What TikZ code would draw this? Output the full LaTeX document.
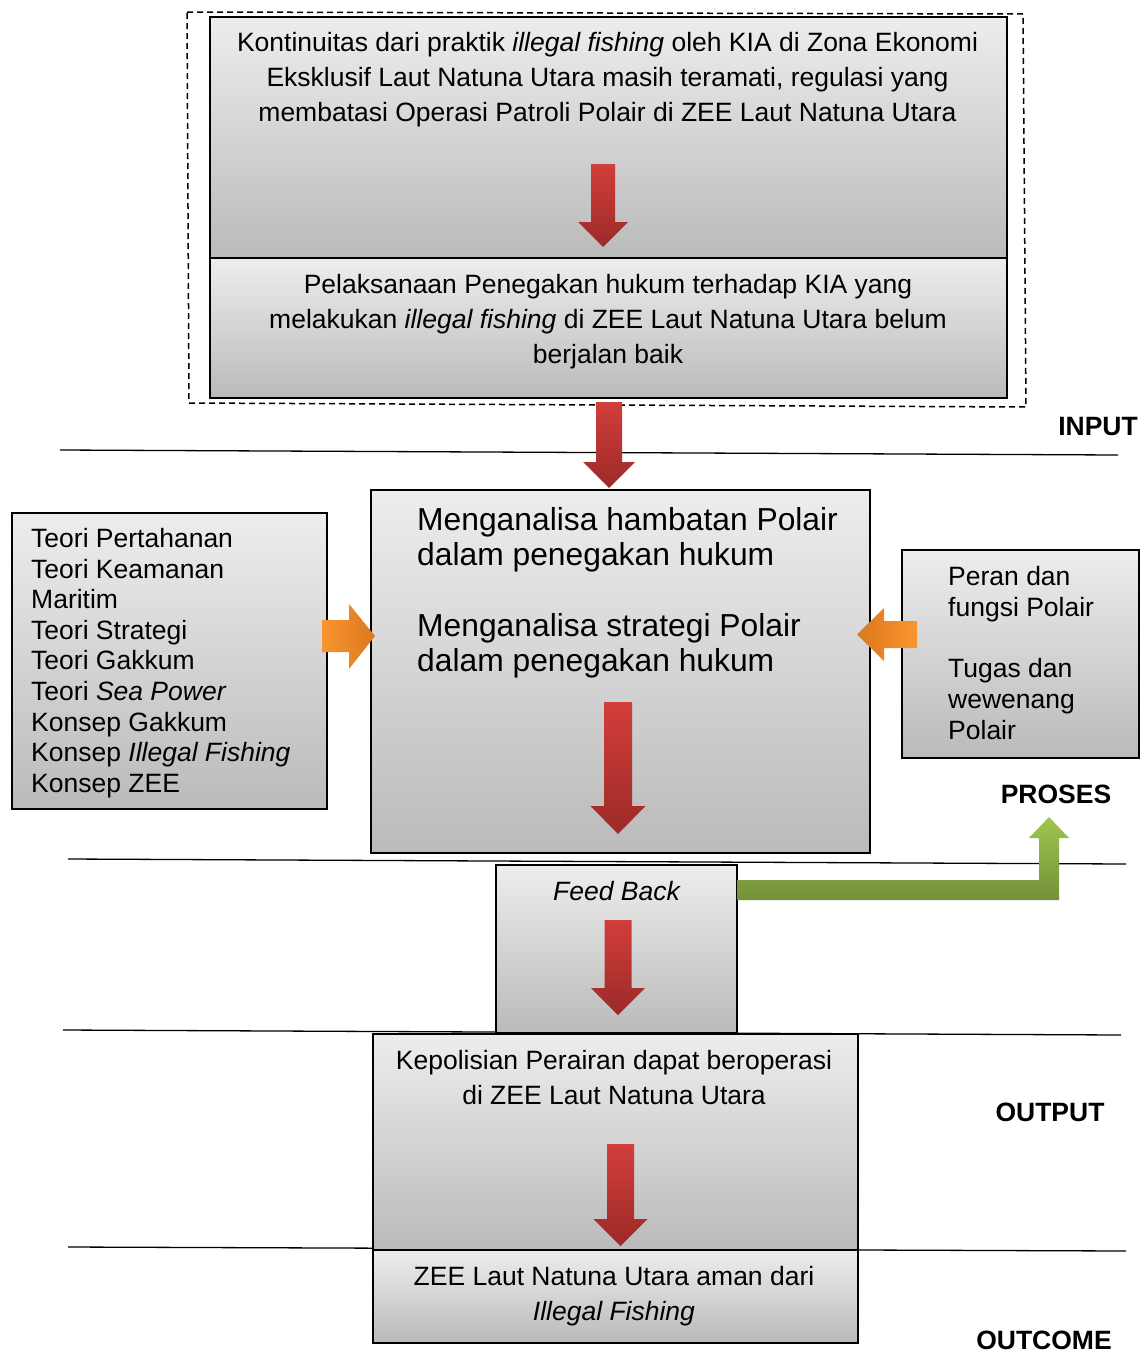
\documentclass[tikz,border=0pt]{standalone}
\usepackage{fontspec}
\setmainfont{Liberation Sans}
\definecolor{redtop}{HTML}{D23E3B}
\definecolor{redbot}{HTML}{9C2A27}
\definecolor{orlight}{HTML}{F9962F}
\definecolor{ordark}{HTML}{DC781F}
\definecolor{grtop}{HTML}{9FC64C}
\definecolor{grbot}{HTML}{74903A}
\newcommand\blockdown[6]{%
  \shade[top color=redtop, bottom color=redbot]
    ({#1-#2},#3) -- ({#1+#2},#3) -- ({#1+#2},#4) -- ({#1+#5},#4) -- (#1,#6)
    -- ({#1-#5},#4) -- ({#1-#2},#4) -- cycle;}
\begin{document}
\begin{tikzpicture}[x=1pt,y=-1pt,
  box/.style={draw=black, line width=1.5pt, top color=black!7, bottom color=black!27,
    inner sep=0pt, anchor=north west},
  txt/.style={inner sep=0pt, font=\fontsize{26.5}{35}\selectfont, align=center, anchor=base},
  lbl/.style={inner sep=0pt, font=\fontsize{26.5}{32}\selectfont\bfseries, anchor=base},
  sepline/.style={line width=1.3pt}]
\useasboundingbox (0,0) rectangle (1140,1352);
% separator lines
\draw[sepline] (60,450) -- (1118,455);
\draw[sepline] (68,859) -- (1126,864);
\draw[sepline] (63,1030) -- (1121,1035);
\draw[sepline] (68,1247) -- (1126,1251);
% dashed frame
\draw[line width=1.5pt, dash pattern=on 6pt off 4pt] (187,12) -- (1023,14) -- (1026,407) -- (189,403) -- cycle;
% boxes
\node[box, minimum width=797pt, minimum height=241pt] (b1) at (209,16) {};
\node[box, minimum width=797pt, minimum height=140pt] (b2) at (209,257) {};
\node[box, minimum width=499pt, minimum height=363pt] (mid) at (370,489) {};
\node[box, minimum width=315pt, minimum height=296pt] (lft) at (11,512) {};
\node[box, minimum width=237pt, minimum height=208pt] (rgt) at (901,549) {};
\node[box, minimum width=241pt, minimum height=168pt] (fb) at (495,864) {};
\node[box, minimum width=485pt, minimum height=216pt] (out) at (372,1033) {};
\node[box, minimum width=485pt, minimum height=93pt] (oc) at (372,1249) {};
% texts (anchor base = baseline of the last line)
\node[txt] (t1) at (607.5,121.5) {Kontinuitas dari praktik \textit{illegal fishing} oleh KIA di Zona Ekonomi\\Eksklusif Laut Natuna Utara masih teramati, regulasi yang\\membatasi Operasi Patroli Polair di ZEE Laut Natuna Utara};
\node[txt] (t2) at (608,363.5) {Pelaksanaan Penegakan hukum terhadap KIA yang\\melakukan \textit{illegal fishing} di ZEE Laut Natuna Utara belum\\berjalan baik};
\node[txt, anchor=base west, align=left, font=\fontsize{31.8}{35.5}\selectfont] (tm) at (417,671.5) {Menganalisa hambatan Polair\\dalam penegakan hukum\\[35pt]Menganalisa strategi Polair\\dalam penegakan hukum};
\node[txt, anchor=base west, align=left, font=\fontsize{26.5}{30.6}\selectfont] (tl) at (31,792.3) {Teori Pertahanan\\Teori Keamanan\\Maritim\\Teori Strategi\\Teori Gakkum\\Teori \textit{Sea Power}\\Konsep Gakkum\\Konsep \textit{Illegal Fishing}\\Konsep ZEE};
\node[txt, anchor=base west, align=left, font=\fontsize{26.5}{30.7}\selectfont] (tr) at (948,739) {Peran dan\\fungsi Polair\\[30.7pt]Tugas dan\\wewenang\\Polair};
\node[txt] (tf) at (617,900.5) {\textit{Feed Back}};
\node[txt] (to) at (614,1104.5) {Kepolisian Perairan dapat beroperasi\\di ZEE Laut Natuna Utara};
\node[txt] (tc) at (614,1320.5) {ZEE Laut Natuna Utara aman dari\\\textit{Illegal Fishing}};
% labels
\node[lbl] (lin) at (1098,435.5) {INPUT};
\node[lbl] (lpr) at (1056,803.5) {PROSES};
\node[lbl] (lou) at (1050,1121.5) {OUTPUT};
\node[lbl] (loc) at (1044,1349) {OUTCOME};
% red block arrows
\blockdown{603}{12}{164}{222}{25}{247}
\blockdown{609}{13}{402}{462}{26}{488}
\blockdown{618}{14}{702}{806}{27.5}{834}
\blockdown{618}{13.5}{920}{988}{27}{1015}
\blockdown{620.5}{13.5}{1144}{1219}{27}{1246}
% orange arrows
\shade[left color=orlight, right color=ordark] (322,620) -- (349,620) -- (349,604) -- (375,636) -- (349,669) -- (349,652) -- (322,652) -- cycle;
\shade[left color=ordark, right color=orlight] (917,621) -- (884,621) -- (884,608) -- (857,634.5) -- (884,661) -- (884,648) -- (917,648) -- cycle;
% green feedback arrow
\shade[top color=grtop, bottom color=grbot] (737,880) -- (1039,880) -- (1039,838) -- (1029,838) -- (1049,817) -- (1069,838) -- (1059,838) -- (1059,900) -- (737,900) -- cycle;
\end{tikzpicture}
\end{document}
